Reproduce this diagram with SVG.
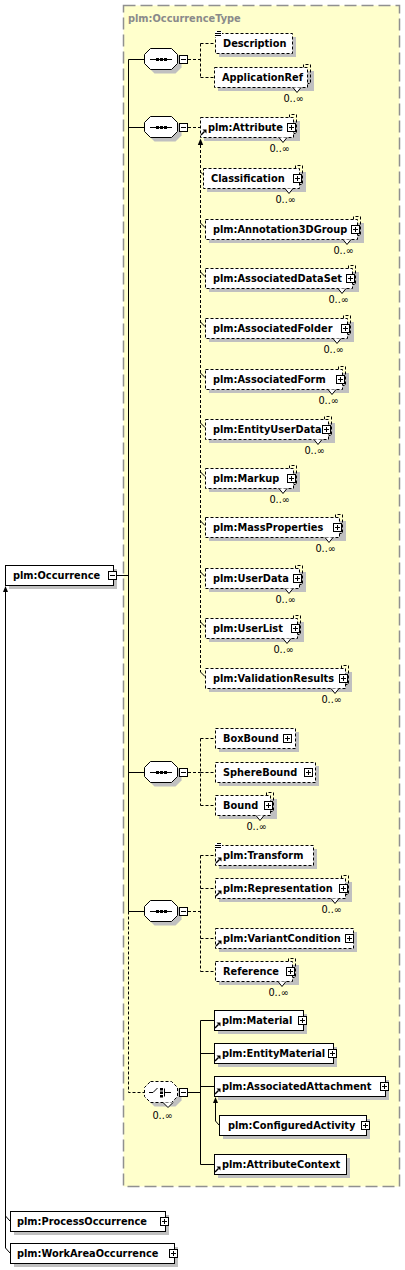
<svg xmlns="http://www.w3.org/2000/svg" xmlns:xlink="http://www.w3.org/1999/xlink" width="405" height="1270" viewBox="0 0 405 1270">
<style>
.sh{fill:#c0c0c0;stroke:none}
.bx{fill:#fff;stroke:#000;stroke-width:1}
.o{stroke-dasharray:3,2}
.ln{fill:none;stroke:#000;stroke-width:1}
.d{stroke-dasharray:3,2}
.nt{fill:#fff;stroke:#000;stroke-width:1}
.t{font-family:"DejaVu Sans",Verdana,sans-serif;font-weight:bold;font-size:9.8px;fill:#000}
.n{font-family:"DejaVu Sans",Verdana,sans-serif;font-size:9.8px;fill:#000}
.hd{font-family:"DejaVu Sans",Verdana,sans-serif;font-weight:bold;font-size:9.8px;fill:#8a8a8a}
</style>
<defs>
<g id="pl"><rect x="0.5" y="0.5" width="8" height="8" fill="#fff" stroke="#000"/><path d="M2,4.5H7M4.5,2V7" stroke="#000" fill="none"/></g>
<g id="mi"><rect x="0.5" y="0.5" width="8" height="8" fill="#fff" stroke="#000"/><path d="M2,4.5H7" stroke="#000" fill="none"/></g>
<g id="rf"><path d="M1,7 L4.5,3.5" stroke="#000" stroke-width="1.5" fill="none"/><path d="M2.5,1.5 H6.5 V5.5 Z" fill="#000"/></g>
<g id="dc"><rect x="0" y="0" width="7" height="6" fill="#fff"/><path d="M2,0.5H6M0,2.5H6M0,4.5H6" stroke="#000" fill="none"/></g>
<polygon id="octSh" class="sh" points="10.5,4.5 31.5,4.5 37.5,10.5 37.5,19.5 31.5,25.5 10.5,25.5 4.5,19.5 4.5,10.5"/>
<g id="seq">
<use href="#octSh"/>
<polygon class="bx" points="6.5,0.5 27.5,0.5 33.5,6.5 33.5,15.5 27.5,21.5 6.5,21.5 0.5,15.5 0.5,6.5"/>
<path class="ln" d="M6,11.5H28"/>
<rect x="12" y="10" width="3" height="3" fill="#000"/><rect x="16" y="10" width="3" height="3" fill="#000"/><rect x="20" y="10" width="3" height="3" fill="#000"/>
<use href="#mi" x="35" y="7"/>
</g>
</defs>

<rect x="123.5" y="5.5" width="276" height="1181" fill="#ffffcc" stroke="#909090" stroke-width="1.5" stroke-dasharray="12,5"/>
<text class="hd" x="128" y="22">plm:OccurrenceType</text>

<g id="connectors">
<path class="ln" d="M117,575.5H128.5M128.5,59.5V911.5M128.5,59.5H144M128.5,127.5H144M128.5,772.5H144M128.5,911.5H144"/>
<path class="ln d" d="M128.5,911.5V1092.5H144"/>
<path class="ln d" d="M188,59.5H200.5M200.5,43.5V77.5M200.5,43.5H215M200.5,77.5H214"/>
<path class="ln d" d="M188,127.5H200"/>
<path class="ln d" d="M200.5,145V672"/>
<polygon points="200.5,138.5 197.8,145 203.2,145" fill="#000"/>
<path class="ln" d="M200.5,172L203,174.5M200.5,223L205,227.5M200.5,272L205,276.5M200.5,322L205,326.5M200.5,373L205,377.5M200.5,423L205,427.5M200.5,472L205,476.5M200.5,521L205,525.5M200.5,572L205,576.5M200.5,622L205,626.5M200.5,672L205,676.5"/>
<path class="ln d" d="M188,772.5H200.5M200.5,738.5V805.5M200.5,738.5H215M200.5,772.5H215M200.5,805.5H215"/>
<path class="ln d" d="M188,911.5H200.5M200.5,855.5V971.5M200.5,855.5H215M200.5,888.5H215M200.5,938.5H215M200.5,971.5H215"/>
<path class="ln" d="M188,1092.5H200.5M200.5,1020.5V1164.5M200.5,1020.5H214M200.5,1053.5H214M200.5,1086.5H214M200.5,1164.5H214"/>
<path class="ln" d="M215.5,1121V1103M215.5,1121L219,1125"/>
<polygon points="215.5,1097 213,1103 218,1103" fill="#000"/>
<path class="ln" d="M5.5,1248V592M5.5,1216L10,1221M5.5,1248L10,1253"/>
<polygon points="5.5,586 3,592 8,592" fill="#000"/>
</g>

<g id="seq1"><use href="#seq" x="144" y="48"/></g>
<g id="seq2"><use href="#seq" x="144" y="116"/></g>
<g id="seq3"><use href="#seq" x="144" y="761"/></g>
<g id="seq4"><use href="#seq" x="144" y="900"/></g>
<g id="choice" transform="translate(144,1081)">
<use href="#octSh"/>
<polygon class="bx o" points="6.5,0.5 27.5,0.5 33.5,6.5 33.5,15.5 27.5,21.5 6.5,21.5 0.5,15.5 0.5,6.5"/>
<path class="nt" d="M19,21.5L24,26.5L29,21.5"/>
<path class="ln" d="M5,11.5H9L13.5,7"/>
<rect x="16" y="7" width="3" height="2.5" fill="#000"/><rect x="16" y="10.5" width="3" height="2.5" fill="#000"/><rect x="16" y="14" width="3" height="2.5" fill="#000"/>
<path class="ln" d="M20.5,7.5V15.5M20.5,11.5H27"/>
<use href="#mi" x="35" y="7"/>
<text class="n" x="29" y="38" text-anchor="end">0..∞</text>
</g>

<g id="n-occurrence">
<rect class="sh" x="9" y="569" width="108" height="20"/>
<rect class="bx" x="5.5" y="565.5" width="108" height="20"/>
<text class="t" x="13" y="579">plm:Occurrence</text>
<use href="#mi" x="108" y="571"/>
</g>

<g id="n-description">
<rect class="sh" x="219" y="37" width="77" height="20"/>
<rect class="bx o" x="215.5" y="33.5" width="77" height="20"/>
<use href="#dc" x="215" y="31"/>
<text class="t" x="223" y="47">Description</text>
</g>

<g id="n-applicationref">
<rect class="sh" x="218" y="71" width="96" height="20"/>
<path class="ln d" d="M303.5,67.5V64.5H310.5V83.5H307.5"/>
<rect class="bx o" x="214.5" y="67.5" width="93" height="20"/>
<path class="nt" d="M293,87.5L297,92.5L301,87.5"/>
<text class="t" x="222" y="81">ApplicationRef</text>
<text class="n" x="304" y="102" text-anchor="end">0..∞</text>
</g>

<g id="n-attribute">
<rect class="sh" x="204" y="121" width="96" height="20"/>
<path class="ln d" d="M289.5,117.5V114.5H296.5V133.5H293.5"/>
<rect class="bx o" x="200.5" y="117.5" width="93" height="20"/>
<use href="#rf" x="200" y="128"/>
<text class="t" x="208" y="131">plm:Attribute</text>
<use href="#pl" x="287" y="123"/>
<path class="nt" d="M279,137.5L283,142.5L287,137.5"/>
<text class="n" x="290" y="152" text-anchor="end">0..∞</text>
</g>

<g id="n-classification">
<rect class="sh" x="207" y="172" width="99" height="20"/>
<path class="ln d" d="M295.5,168.5V165.5H302.5V184.5H299.5"/>
<rect class="bx o" x="203.5" y="168.5" width="96" height="20"/>
<text class="t" x="211" y="182">Classification</text>
<use href="#pl" x="293" y="174"/>
<path class="nt" d="M285,188.5L289,193.5L293,188.5"/>
<text class="n" x="296" y="203" text-anchor="end">0..∞</text>
</g>

<g id="n-annotation3dgroup">
<rect class="sh" x="209" y="223" width="155" height="20"/>
<path class="ln d" d="M353.5,219.5V216.5H360.5V235.5H357.5"/>
<rect class="bx o" x="205.5" y="219.5" width="152" height="20"/>
<text class="t" x="213" y="233">plm:Annotation3DGroup</text>
<use href="#pl" x="351" y="225"/>
<path class="nt" d="M343,239.5L347,244.5L351,239.5"/>
<text class="n" x="354" y="254" text-anchor="end">0..∞</text>
</g>

<g id="n-associateddataset">
<rect class="sh" x="209" y="272" width="150" height="20"/>
<path class="ln d" d="M348.5,268.5V265.5H355.5V284.5H352.5"/>
<rect class="bx o" x="205.5" y="268.5" width="147" height="20"/>
<text class="t" x="213" y="282">plm:AssociatedDataSet</text>
<use href="#pl" x="346" y="274"/>
<path class="nt" d="M338,288.5L342,293.5L346,288.5"/>
<text class="n" x="349" y="303" text-anchor="end">0..∞</text>
</g>

<g id="n-associatedfolder">
<rect class="sh" x="209" y="322" width="145" height="20"/>
<path class="ln d" d="M343.5,318.5V315.5H350.5V334.5H347.5"/>
<rect class="bx o" x="205.5" y="318.5" width="142" height="20"/>
<text class="t" x="213" y="332">plm:AssociatedFolder</text>
<use href="#pl" x="341" y="324"/>
<path class="nt" d="M333,338.5L337,343.5L341,338.5"/>
<text class="n" x="344" y="353" text-anchor="end">0..∞</text>
</g>

<g id="n-associatedform">
<rect class="sh" x="209" y="373" width="140" height="20"/>
<path class="ln d" d="M338.5,369.5V366.5H345.5V385.5H342.5"/>
<rect class="bx o" x="205.5" y="369.5" width="137" height="20"/>
<text class="t" x="213" y="383">plm:AssociatedForm</text>
<use href="#pl" x="336" y="375"/>
<path class="nt" d="M328,389.5L332,394.5L336,389.5"/>
<text class="n" x="339" y="404" text-anchor="end">0..∞</text>
</g>

<g id="n-entityuserdata">
<rect class="sh" x="209" y="423" width="126" height="20"/>
<path class="ln d" d="M324.5,419.5V416.5H331.5V435.5H328.5"/>
<rect class="bx o" x="205.5" y="419.5" width="123" height="20"/>
<text class="t" x="213" y="433">plm:EntityUserData</text>
<use href="#pl" x="322" y="425"/>
<path class="nt" d="M314,439.5L318,444.5L322,439.5"/>
<text class="n" x="325" y="454" text-anchor="end">0..∞</text>
</g>

<g id="n-markup">
<rect class="sh" x="209" y="472" width="91" height="20"/>
<path class="ln d" d="M289.5,468.5V465.5H296.5V484.5H293.5"/>
<rect class="bx o" x="205.5" y="468.5" width="88" height="20"/>
<text class="t" x="213" y="482">plm:Markup</text>
<use href="#pl" x="287" y="474"/>
<path class="nt" d="M279,488.5L283,493.5L287,488.5"/>
<text class="n" x="290" y="503" text-anchor="end">0..∞</text>
</g>

<g id="n-massproperties">
<rect class="sh" x="209" y="521" width="137" height="20"/>
<path class="ln d" d="M335.5,517.5V514.5H342.5V533.5H339.5"/>
<rect class="bx o" x="205.5" y="517.5" width="134" height="20"/>
<text class="t" x="213" y="531">plm:MassProperties</text>
<use href="#pl" x="333" y="523"/>
<path class="nt" d="M325,537.5L329,542.5L333,537.5"/>
<text class="n" x="336" y="552" text-anchor="end">0..∞</text>
</g>

<g id="n-userdata">
<rect class="sh" x="209" y="572" width="97" height="20"/>
<path class="ln d" d="M295.5,568.5V565.5H302.5V584.5H299.5"/>
<rect class="bx o" x="205.5" y="568.5" width="94" height="20"/>
<text class="t" x="213" y="582">plm:UserData</text>
<use href="#pl" x="293" y="574"/>
<path class="nt" d="M285,588.5L289,593.5L293,588.5"/>
<text class="n" x="296" y="603" text-anchor="end">0..∞</text>
</g>

<g id="n-userlist">
<rect class="sh" x="209" y="622" width="95" height="20"/>
<path class="ln d" d="M293.5,618.5V615.5H300.5V634.5H297.5"/>
<rect class="bx o" x="205.5" y="618.5" width="92" height="20"/>
<text class="t" x="213" y="632">plm:UserList</text>
<use href="#pl" x="291" y="624"/>
<path class="nt" d="M283,638.5L287,643.5L291,638.5"/>
<text class="n" x="294" y="653" text-anchor="end">0..∞</text>
</g>

<g id="n-validationresults">
<rect class="sh" x="209" y="672" width="143" height="20"/>
<path class="ln d" d="M341.5,668.5V665.5H348.5V684.5H345.5"/>
<rect class="bx o" x="205.5" y="668.5" width="140" height="20"/>
<text class="t" x="213" y="682">plm:ValidationResults</text>
<use href="#pl" x="339" y="674"/>
<path class="nt" d="M331,688.5L335,693.5L339,688.5"/>
<text class="n" x="342" y="703" text-anchor="end">0..∞</text>
</g>

<g id="n-boxbound">
<rect class="sh" x="219" y="732" width="80" height="20"/>
<rect class="bx o" x="215.5" y="728.5" width="80" height="20"/>
<text class="t" x="223" y="742">BoxBound</text>
<use href="#pl" x="283" y="734"/>
</g>

<g id="n-spherebound">
<rect class="sh" x="219" y="766" width="100" height="20"/>
<rect class="bx o" x="215.5" y="762.5" width="100" height="20"/>
<text class="t" x="223" y="776">SphereBound</text>
<use href="#pl" x="304" y="768"/>
</g>

<g id="n-bound">
<rect class="sh" x="219" y="799" width="58" height="20"/>
<path class="ln d" d="M266.5,795.5V792.5H273.5V811.5H270.5"/>
<rect class="bx o" x="215.5" y="795.5" width="55" height="20"/>
<text class="t" x="223" y="809">Bound</text>
<use href="#pl" x="264" y="801"/>
<path class="nt" d="M256,815.5L260,820.5L264,815.5"/>
<text class="n" x="267" y="830" text-anchor="end">0..∞</text>
</g>

<g id="n-transform">
<rect class="sh" x="219" y="849" width="98" height="20"/>
<rect class="bx o" x="215.5" y="845.5" width="98" height="20"/>
<use href="#dc" x="215" y="843"/>
<use href="#rf" x="215" y="856"/>
<text class="t" x="223" y="859">plm:Transform</text>
</g>

<g id="n-representation">
<rect class="sh" x="219" y="882" width="133" height="20"/>
<path class="ln d" d="M341.5,878.5V875.5H348.5V894.5H345.5"/>
<rect class="bx o" x="215.5" y="878.5" width="130" height="20"/>
<use href="#rf" x="215" y="889"/>
<text class="t" x="223" y="892">plm:Representation</text>
<use href="#pl" x="339" y="884"/>
<path class="nt" d="M331,898.5L335,903.5L339,898.5"/>
<text class="n" x="342" y="913" text-anchor="end">0..∞</text>
</g>

<g id="n-variantcondition">
<rect class="sh" x="219" y="932" width="138" height="20"/>
<rect class="bx o" x="215.5" y="928.5" width="138" height="20"/>
<use href="#rf" x="215" y="939"/>
<text class="t" x="223" y="942">plm:VariantCondition</text>
<use href="#pl" x="345" y="934"/>
</g>

<g id="n-reference">
<rect class="sh" x="219" y="965" width="80" height="20"/>
<path class="ln d" d="M288.5,961.5V958.5H295.5V977.5H292.5"/>
<rect class="bx o" x="215.5" y="961.5" width="77" height="20"/>
<text class="t" x="223" y="975">Reference</text>
<use href="#pl" x="286" y="967"/>
<path class="nt" d="M278,981.5L282,986.5L286,981.5"/>
<text class="n" x="289" y="996" text-anchor="end">0..∞</text>
</g>

<g id="n-material">
<rect class="sh" x="218" y="1014" width="89" height="20"/>
<rect class="bx" x="214.5" y="1010.5" width="89" height="20"/>
<use href="#rf" x="214" y="1021"/>
<text class="t" x="222" y="1024">plm:Material</text>
<use href="#pl" x="298" y="1016"/>
</g>

<g id="n-entitymaterial">
<rect class="sh" x="218" y="1047" width="119" height="20"/>
<rect class="bx" x="214.5" y="1043.5" width="119" height="20"/>
<use href="#rf" x="214" y="1054"/>
<text class="t" x="222" y="1057">plm:EntityMaterial</text>
<use href="#pl" x="328" y="1049"/>
</g>

<g id="n-associatedattachment">
<rect class="sh" x="218" y="1080" width="171" height="20"/>
<rect class="bx" x="214.5" y="1076.5" width="171" height="20"/>
<use href="#rf" x="214" y="1087"/>
<text class="t" x="222" y="1090">plm:AssociatedAttachment</text>
<use href="#pl" x="380" y="1082"/>
</g>

<g id="n-configuredactivity">
<rect class="sh" x="223" y="1119" width="147" height="20"/>
<rect class="bx" x="219.5" y="1115.5" width="147" height="20"/>
<text class="t" x="228" y="1129">plm:ConfiguredActivity</text>
<use href="#pl" x="361" y="1121"/>
</g>

<g id="n-attributecontext">
<rect class="sh" x="218" y="1158" width="132" height="20"/>
<rect class="bx" x="214.5" y="1154.5" width="132" height="20"/>
<use href="#rf" x="214" y="1165"/>
<text class="t" x="222" y="1168">plm:AttributeContext</text>
</g>

<g id="n-processoccurrence">
<rect class="sh" x="14" y="1215" width="155" height="20"/>
<rect class="bx" x="10.5" y="1211.5" width="155" height="20"/>
<text class="t" x="17" y="1225">plm:ProcessOccurrence</text>
<use href="#pl" x="160" y="1217"/>
</g>

<g id="n-workareaoccurrence">
<rect class="sh" x="14" y="1247" width="164" height="20"/>
<rect class="bx" x="10.5" y="1243.5" width="164" height="20"/>
<text class="t" x="17" y="1257">plm:WorkAreaOccurrence</text>
<use href="#pl" x="169" y="1249"/>
</g>
</svg>
